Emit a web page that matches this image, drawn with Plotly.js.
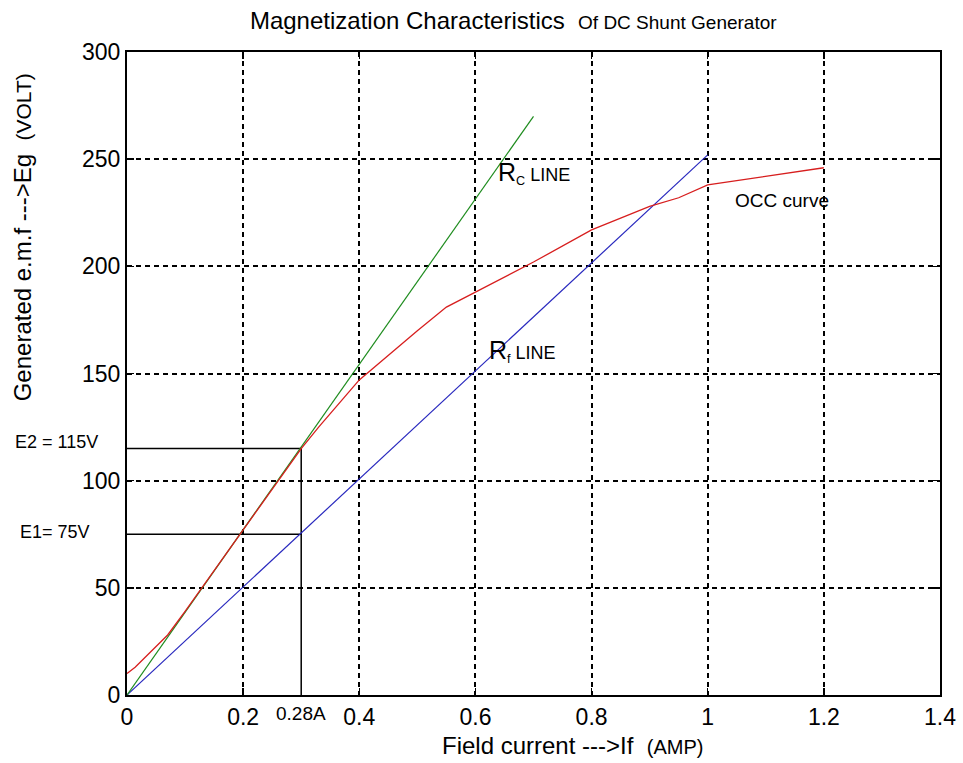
<!DOCTYPE html>
<html>
<head>
<meta charset="utf-8">
<script src="https://cdn.plot.ly/plotly-3.0.1.min.js"></script>
<style>html,body{margin:0;padding:0;background:#fff;}#chart{width:963px;height:763px;}</style>
</head>
<body>
<div id="chart"></div>
<script>
// OCC (open circuit characteristic) curve
const occX = [0, 0.014, 0.07, 0.1, 0.2, 0.3, 0.33, 0.4, 0.5, 0.55, 0.6, 0.7, 0.8, 0.9, 0.95, 1.0, 1.2];
const occY = [10, 13, 28, 39, 77, 115, 125, 147, 170, 181, 188, 202, 217, 228, 232, 238, 246];
// Critical resistance line (Rc)
const rcX = [0, 0.7];
const rcY = [0, 270];
// Field resistance line (Rf)
const rfX = [0, 1.0];
const rfY = [0, 252];
// Marked operating points
const markI = 0.3;   // drawn position of the "0.28A" marker
const E1 = 75;
const E2 = 115;
const xTicks = [0, 0.2, 0.4, 0.6, 0.8, 1, 1.2, 1.4];
const yTicks = [0, 50, 100, 150, 200, 250, 300];

const FONT = '"Liberation Sans", Arial, sans-serif';

const traces = [
  {x: [0, markI, markI], y: [E2, E2, 0], mode: 'lines', line: {color: '#000', width: 1.5}, hoverinfo: 'skip'},
  {x: [0, markI], y: [E1, E1], mode: 'lines', line: {color: '#000', width: 1.5}, hoverinfo: 'skip'},
  {x: rfX, y: rfY, mode: 'lines', line: {color: 'rgb(40,40,190)', width: 1.2}},
  {x: rcX, y: rcY, mode: 'lines', line: {color: 'rgb(30,140,30)', width: 1.2}},
  {x: occX, y: occY, mode: 'lines', line: {color: 'rgb(215,30,30)', width: 1.3}}
];

const axisCommon = {
  showline: true, mirror: 'ticks', linecolor: '#000', linewidth: 2,
  ticks: 'inside', ticklen: 7, tickwidth: 1.5, tickcolor: '#000',
  showgrid: true, gridcolor: '#000', gridwidth: 2, griddash: '5px,4px',
  zeroline: false, tickfont: {family: FONT, size: 23, color: '#000'}
};

const layout = {
  width: 963, height: 763,
  margin: {l: 127, r: 23, t: 52, b: 68},
  paper_bgcolor: '#fff', plot_bgcolor: '#fff',
  showlegend: false,
  font: {family: FONT, color: '#000'},
  title: {
    text: '<span style="font-size:24px">Magnetization Characteristics </span> <span style="font-size:19px">Of DC Shunt Generator</span>',
    x: 0.533, xref: 'container', xanchor: 'center',
    y: 0.973, yref: 'container', yanchor: 'middle',
    font: {family: FONT, size: 24, color: '#000'}
  },
  xaxis: Object.assign({}, axisCommon, {range: [0, 1.4], tickvals: xTicks, ticktext: xTicks.map(String)}),
  yaxis: Object.assign({}, axisCommon, {range: [0, 300], tickvals: yTicks, ticktext: yTicks.map(String)}),
  annotations: [
    {xref: 'x', yref: 'y', x: 0.636, y: 243.5, xanchor: 'left', yanchor: 'middle', showarrow: false,
     text: '<span style="font-size:25px">R</span><sub>C</sub><span style="font-size:18px"> LINE</span>', font: {family: FONT, size: 18, color: '#000'}},
    {xref: 'x', yref: 'y', x: 0.62, y: 160.5, xanchor: 'left', yanchor: 'middle', showarrow: false,
     text: '<span style="font-size:25px">R</span><sub>f</sub><span style="font-size:18px"> LINE</span>', font: {family: FONT, size: 18, color: '#000'}},
    {xref: 'x', yref: 'y', x: 1.044, y: 230.5, xanchor: 'left', yanchor: 'middle', showarrow: false,
     text: 'OCC curve', font: {family: FONT, size: 19, color: '#000'}},
    {xref: 'paper', yref: 'y', x: -0.140, y: E2 + 3, xanchor: 'left', yanchor: 'middle', showarrow: false,
     text: 'E2 = 115V', font: {family: FONT, size: 18, color: '#000'}},
    {xref: 'paper', yref: 'y', x: -0.134, y: E1 + 1, xanchor: 'left', yanchor: 'middle', showarrow: false,
     text: 'E1= 75V', font: {family: FONT, size: 18, color: '#000'}},
    {xref: 'x', yref: 'paper', x: markI, y: -0.0295, xanchor: 'center', yanchor: 'middle', showarrow: false,
     text: '0.28A', font: {family: FONT, size: 19, color: '#000'}},
    {xref: 'paper', yref: 'paper', x: 0.548, y: -0.078, xanchor: 'center', yanchor: 'middle', showarrow: false,
     text: 'Field current --->If  <span style="font-size:20px">(AMP)</span>', font: {family: FONT, size: 24, color: '#000'}},
    {xref: 'paper', yref: 'paper', x: -0.129, y: 0.712, xanchor: 'center', yanchor: 'middle', showarrow: false, textangle: -90,
     text: 'Generated e.m.f --->Eg  <span style="font-size:21px">(VOLT)</span>', font: {family: FONT, size: 24, color: '#000'}}
  ]
};

Plotly.newPlot('chart', traces, layout, {displayModeBar: false, staticPlot: true});
</script>
</body>
</html>
